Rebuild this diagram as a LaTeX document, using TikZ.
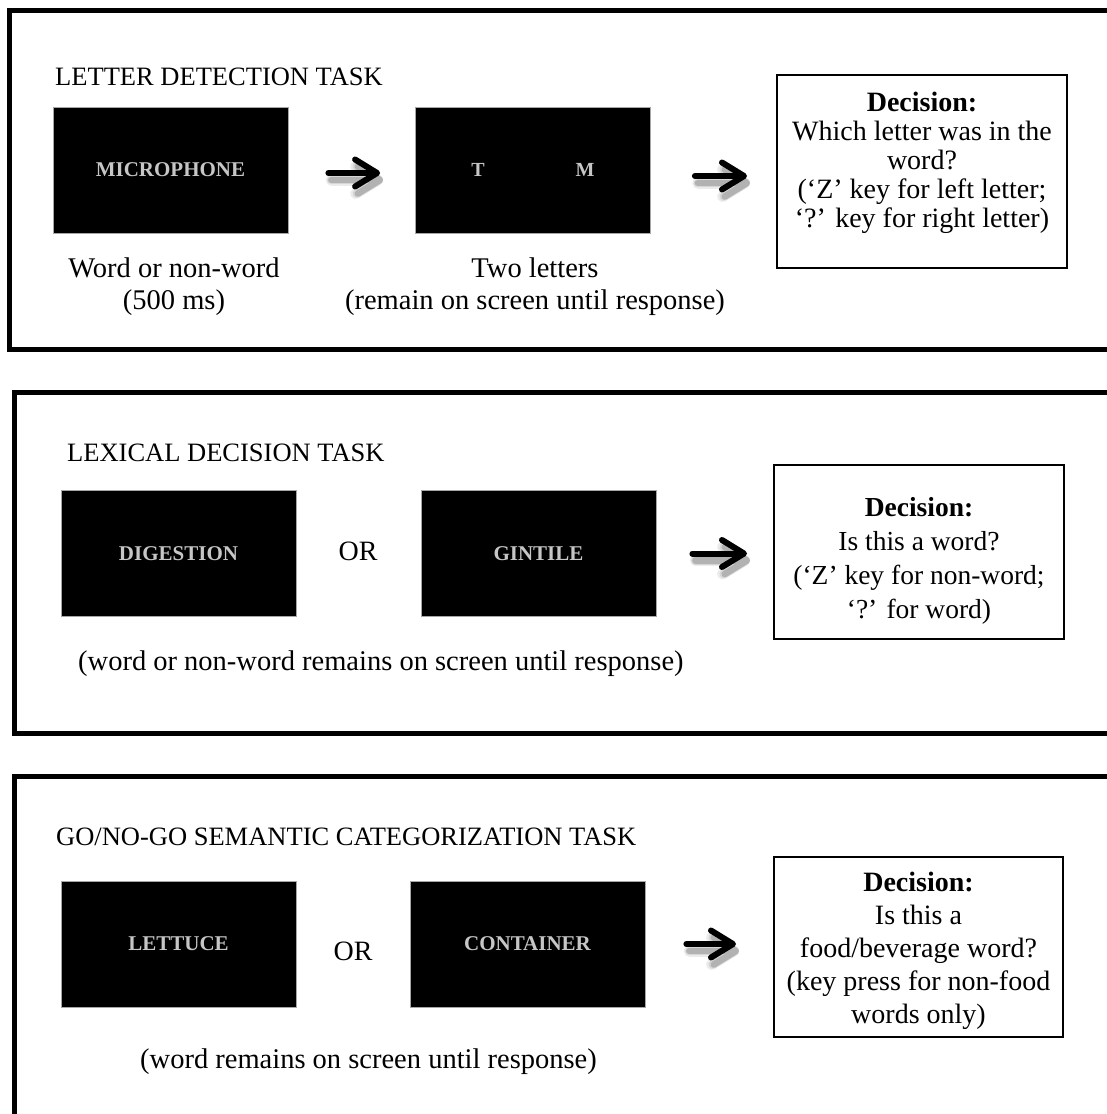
\documentclass[tikz,border=0pt]{standalone}
\usepackage{fontspec}
\setmainfont{Liberation Serif}
\usetikzlibrary{arrows.meta}
\definecolor{wordgray}{RGB}{198,198,198}

% thick marker-like arrow with a soft drop shadow
% #1 start, #2 end, #3 shorten at start, #4 shorten at end
\newcommand{\flowlink}[4]{%
  \foreach \shade/\wd in {8/11, 16/8.5, 30/6.5}{%
    \draw[flowshadow, draw=black!\shade, line width=\wd pt,
          shorten <=#3, shorten >=#4] (#1) -- (#2);
  }
  \draw[flow, shorten <=#3, shorten >=#4] (#1) -- (#2);
}

\begin{document}
\begin{tikzpicture}[x=1pt, y=-1pt,
  panel/.style={line width=5pt, line join=miter},
  screen/.style={fill=black, draw=gray!70, line width=0.8pt,
    minimum width=235pt, minimum height=126pt, inner sep=0pt,
    text=wordgray, font=\fontsize{21}{24}\selectfont\bfseries},
  screenletter/.style={inner sep=0pt, text=wordgray,
    font=\fontsize{20}{24}\selectfont\bfseries},
  title/.style={anchor=base west, inner sep=0pt,
    font=\fontsize{26.5}{30}\selectfont},
  caption/.style={inner sep=0pt, align=center,
    font=\fontsize{28.5}{32}\selectfont},
  ortext/.style={anchor=base, inner sep=0pt,
    font=\fontsize{28}{32}\selectfont},
  decbox/.style={draw, line width=2pt, inner sep=0pt},
  dectext/.style={anchor=north, inner sep=0pt, align=center},
  flow/.style={line width=6pt, line cap=round,
    -{Straight Barb[length=22pt, width=27pt, round]}},
  flowshadow/.style={line cap=round,
    transform canvas={xshift=3pt, yshift=-7pt},
    -{Straight Barb[length=22pt, width=27pt, round]}}
]
\useasboundingbox (0,0) rectangle (1106,1114);

% ---------------- Letter detection task ----------------
\draw[panel] (1115,10) -- (9.5,10) -- (9.5,349) -- (1115,349);
\node[title] (t1) at (55,85) {LETTER DETECTION TASK};
\node[screen] (s1) at (170.5,170) {MICROPHONE};
\node[screen] (s2) at (533,170) {};
\node[screenletter] (s2l) at (478,170) {T};
\node[screenletter] (s2r) at (585,170) {M};
\node[decbox, minimum width=290pt, minimum height=193pt] (d1) at (922,171.5) {};
\node[dectext, font=\fontsize{28}{29}\selectfont] (d1t) at (922,92)
  {\textbf{Decision:}\\Which letter was in the\\word?\\(‘Z’ key for left letter;\\‘?’ key for right letter)};
\node[caption, anchor=north] (c1) at (174,257.5) {Word or non-word\\(500 ms)};
\node[caption, anchor=north] (c2) at (535,257.5) {Two letters\\(remain on screen until response)};

\coordinate (a1) at ([yshift=-3pt]s1.east);
\coordinate (a2) at ([yshift=-6pt]s2.east);
\flowlink{a1}{a1 -| s2.west}{40pt}{35pt}
\flowlink{a2}{a2 -| d1.west}{44pt}{29pt}

% ---------------- Lexical decision task ----------------
\draw[panel] (1115,392) -- (14.5,392) -- (14.5,733) -- (1115,733);
\node[title] (t2) at (67,461) {LEXICAL DECISION TASK};
\node[screen] (s3) at (178.5,553.5) {DIGESTION};
\node[ortext] (or2) at (358,560) {OR};
\node[screen] (s4) at (538.5,553.5) {GINTILE};
\node[decbox, minimum width=290pt, minimum height=174pt] (d2) at (919,552) {};
\node[dectext, font=\fontsize{27.5}{34}\selectfont] (d2t) at (919,497)
  {\textbf{Decision:}\\Is this a word?\\(‘Z’ key for non-word;\\‘?’ for word)};
\node[caption, anchor=base west] (c3) at (78,670) {(word or non-word remains on screen until response)};

\coordinate (a3) at (s4.east);
\flowlink{a3}{a3 -| d2.west}{36pt}{26pt}

% ---------------- Go/no-go semantic categorization task ----------------
\draw[panel] (1115,776) -- (14.5,776) -- (14.5,1125);
\node[title] (t3) at (56,845) {GO/NO-GO SEMANTIC CATEGORIZATION TASK};
\node[screen] (s5) at (178.5,944) {LETTUCE};
\node[ortext] (or3) at (353,960) {OR};
\node[screen] (s6) at (527.5,944) {CONTAINER};
\node[decbox, minimum width=289pt, minimum height=180pt] (d3) at (918.5,947) {};
\node[dectext, font=\fontsize{28}{33}\selectfont] (d3t) at (918.5,872)
  {\textbf{Decision:}\\Is this a\\food/beverage word?\\(key press for non-food\\words only)};
\node[caption, anchor=base west] (c4) at (140,1068) {(word remains on screen until response)};

\coordinate (a4) at (s6.east);
\flowlink{a4}{a4 -| d3.west}{41pt}{37pt}
\end{tikzpicture}
\end{document}
